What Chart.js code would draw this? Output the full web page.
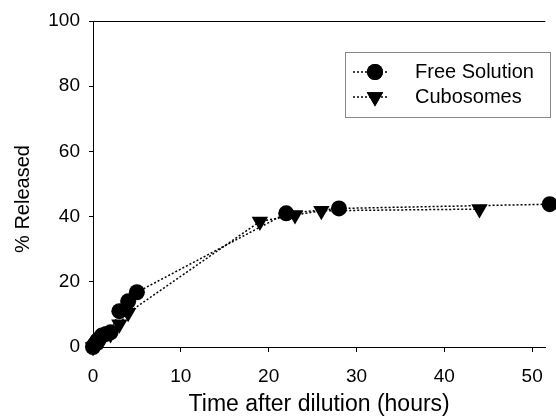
<!DOCTYPE html>
<html>
<head>
<meta charset="utf-8">
<script src="https://cdn.jsdelivr.net/npm/chart.js@4.4.1/dist/chart.umd.min.js"></script>
<style>
  html, body { margin: 0; padding: 0; background: #fff; }
  #wrap { width: 556px; height: 418px; }
</style>
</head>
<body>
<div id="wrap"><canvas id="release-chart" width="556" height="418"></canvas></div>
<script>
// Data (hours vs % released)
const freeHours = [0, 0.25, 0.5, 1, 1.5, 2, 3, 4, 5, 22, 28, 52];
const freeReleased = [0, 1, 2, 3.5, 4, 4.5, 11, 14, 16.8, 41, 42.5, 43.8];
const cuboHours = [0, 0.5, 1, 2, 3, 4, 19, 23, 26, 44];
const cuboReleased = [0, 1, 2, 4, 7, 10.5, 38.5, 40.5, 41.8, 42.3];
const seriesNames = ["Free Solution", "Cubosomes"];
const xTicks = [0, 10, 20, 30, 40, 50];
const yTicks = [0, 20, 40, 60, 80, 100];
const xTitle = "Time after dilution (hours)";
const yTitle = "% Released";

const FONT = "'Liberation Sans', Arial, sans-serif";

const toPoints = (xs, ys) => xs.map((x, i) => ({ x: x, y: ys[i] }));

// Top frame line, y title and the boxed legend (dotted line through the marker)
const framePlugin = {
  id: "frameAndLegend",
  afterDraw(chart) {
    const { ctx, chartArea } = chart;
    ctx.save();
    ctx.strokeStyle = "#000";
    ctx.lineWidth = 1;
    ctx.beginPath();
    ctx.moveTo(chartArea.left - 4, chartArea.top + 0.5);
    ctx.lineTo(chartArea.right, chartArea.top + 0.5);
    ctx.stroke();

    // y axis title
    ctx.save();
    ctx.translate(23, 199);
    ctx.rotate(-Math.PI / 2);
    ctx.fillStyle = "#000";
    ctx.font = "20px " + FONT;
    ctx.textAlign = "center";
    ctx.textBaseline = "middle";
    ctx.fillText(yTitle, 0, 0);
    ctx.restore();

    // legend box
    const bx = 345.5, by = 52.5, bw = 205, bh = 65;
    ctx.strokeStyle = "#888";
    ctx.lineWidth = 1;
    ctx.strokeRect(bx, by, bw, bh);

    chart.data.datasets.forEach((ds, i) => {
      const cy = 72 + i * 25;
      ctx.strokeStyle = "#000";
      ctx.lineWidth = 1.5;
      ctx.setLineDash([2, 2]);
      ctx.beginPath();
      ctx.moveTo(353, cy);
      ctx.lineTo(389, cy);
      ctx.stroke();
      ctx.setLineDash([]);
      Chart.helpers.drawPoint(ctx, {
        pointStyle: ds.pointStyle,
        radius: ds.pointRadius,
        rotation: ds.pointRotation || 0,
        borderWidth: 0
      }, 375, cy);
      ctx.fillStyle = "#000";
      ctx.fill();
      ctx.font = "20px " + FONT;
      ctx.textBaseline = "middle";
      ctx.textAlign = "left";
      ctx.fillText(ds.label, 415, cy);
    });
    ctx.restore();
  }
};

new Chart(document.getElementById("release-chart"), {
  type: "scatter",
  data: {
    datasets: [
      {
        label: seriesNames[0],
        data: toPoints(freeHours, freeReleased),
        showLine: true,
        borderColor: "#000",
        borderWidth: 1.5,
        borderDash: [2, 2],
        pointStyle: "circle",
        pointRadius: 8,
        pointBackgroundColor: "#000",
        pointBorderWidth: 0
      },
      {
        label: seriesNames[1],
        data: toPoints(cuboHours, cuboReleased),
        showLine: true,
        borderColor: "#000",
        borderWidth: 1.5,
        borderDash: [2, 2],
        pointStyle: "triangle",
        pointRotation: 180,
        pointRadius: 9.5,
        pointBackgroundColor: "#000",
        pointBorderWidth: 0
      }
    ]
  },
  options: {
    responsive: false,
    animation: false,
    devicePixelRatio: 1,
    clip: false,
    layout: { padding: { top: 21, right: 0, left: 0, bottom: 0 } },
    plugins: {
      legend: { display: false },
      tooltip: { enabled: false }
    },
    scales: {
      x: {
        type: "linear",
        min: 0,
        max: 51.5,
        afterFit: (scale) => { scale.height = 71; },
        afterBuildTicks: (scale) => { scale.ticks = xTicks.map(v => ({ value: v })); },
        ticks: { color: "#000", font: { family: FONT, size: 19 }, padding: 13, maxRotation: 0 },
        grid: { drawOnChartArea: false, color: "#000", tickLength: 5 },
        border: { color: "#000", width: 1 },
        title: {
          display: true,
          text: xTitle,
          color: "#000",
          font: { family: FONT, size: 23 },
          padding: { top: 0, bottom: 0 }
        }
      },
      y: {
        min: 0,
        max: 100,
        afterFit: (scale) => { scale.width = 93; },
        afterBuildTicks: (scale) => { scale.ticks = yTicks.map(v => ({ value: v })); },
        ticks: { color: "#000", font: { family: FONT, size: 19 }, padding: 9 },
        grid: { drawOnChartArea: false, color: "#000", tickLength: 4 },
        border: { color: "#000", width: 1 }
      }
    }
  },
  plugins: [framePlugin]
});
</script>
</body>
</html>
